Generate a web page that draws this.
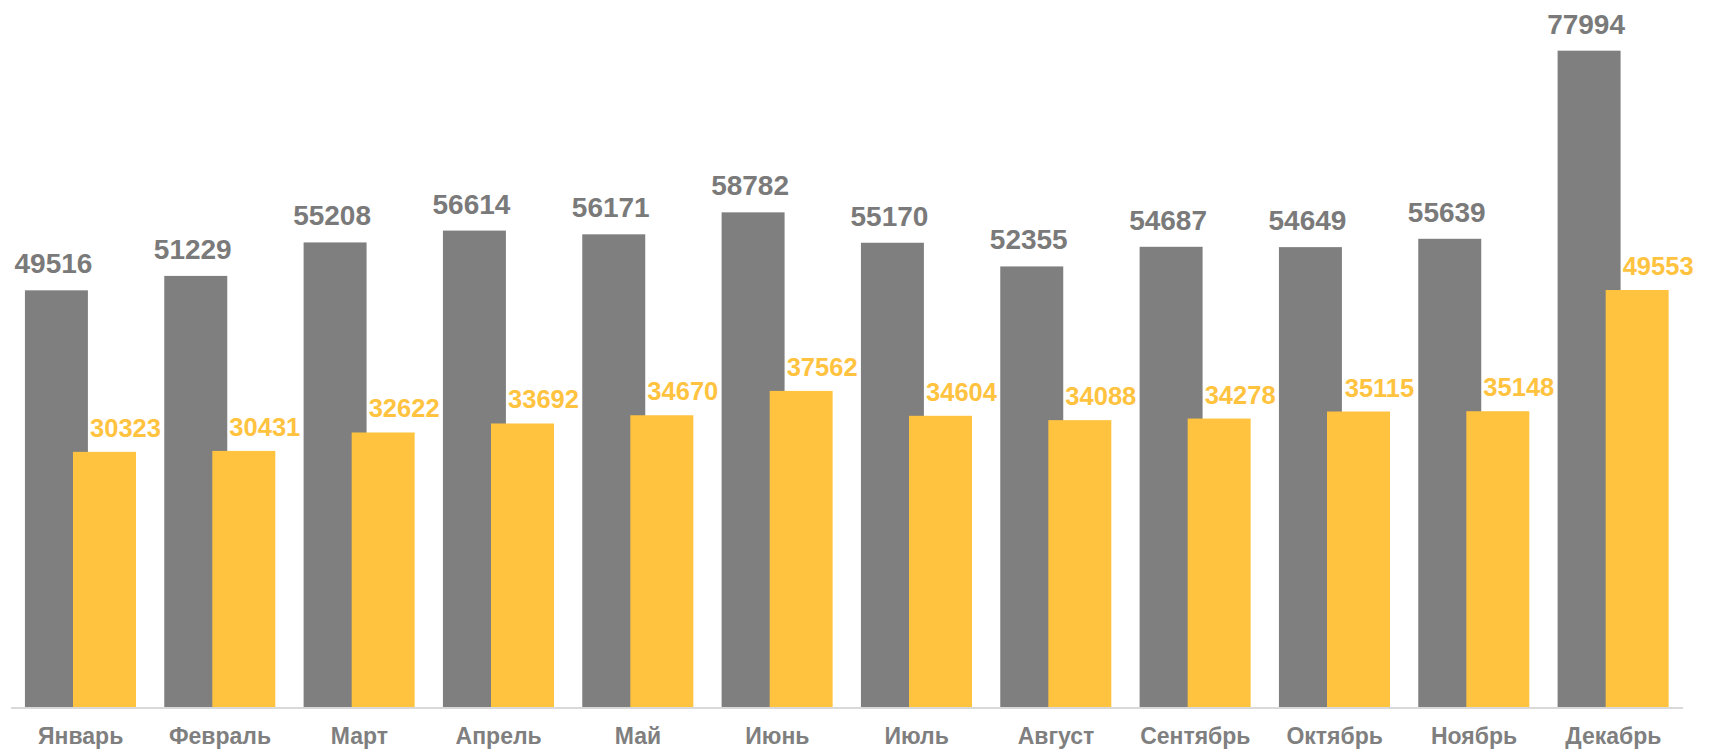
<!DOCTYPE html>
<html>
<head>
<meta charset="utf-8">
<script src="https://cdn.jsdelivr.net/npm/d3@7"></script>
<style>
	body { margin: 0; background: #fff; }
	text { font-family: 'Liberation Sans', Arial, sans-serif; font-weight: bold; }
</style>
</head>
<body>
<script>
const months = ['Январь', 'Февраль', 'Март', 'Апрель', 'Май', 'Июнь', 'Июль', 'Август', 'Сентябрь', 'Октябрь', 'Ноябрь', 'Декабрь'];
const grayValues = [49516, 51229, 55208, 56614, 56171, 58782, 55170, 52355, 54687, 54649, 55639, 77994];
const yellowValues = [30323, 30431, 32622, 33692, 34670, 37562, 34604, 34088, 34278, 35115, 35148, 49553];

const w = 1713;
const h = 749;
const baseY = 707;

const svg = d3
	.select('body')
	.append('svg')
	.attr('width', w)
	.attr('height', h);

const xScale = d3
	.scaleBand()
	.domain(months)
	.range([11, 1683])
	.padding(0);

const bw = xScale.bandwidth();
const barW = bw * 0.452;

const yScale = d3
	.scaleLinear()
	.domain([0, 80000])
	.range([baseY, baseY - 80000 * 0.008415]);

const grayX = m => xScale(m) + bw * 0.1;
const yellowX = m => xScale(m) + bw * 0.445;

// gray bars
svg
	.selectAll('rect.gray')
	.data(months)
	.enter()
	.append('rect')
	.attr('class', 'gray')
	.attr('x', d => grayX(d))
	.attr('y', (d, i) => yScale(grayValues[i]))
	.attr('width', barW)
	.attr('height', (d, i) => baseY - yScale(grayValues[i]))
	.attr('fill', '#7f7f7f');

// yellow bars
svg
	.selectAll('rect.yellow')
	.data(months)
	.enter()
	.append('rect')
	.attr('class', 'yellow')
	.attr('x', d => yellowX(d))
	.attr('y', (d, i) => yScale(yellowValues[i]))
	.attr('width', barW)
	.attr('height', (d, i) => baseY - yScale(yellowValues[i]))
	.attr('fill', '#ffc33f');

// axis line
svg
	.append('line')
	.attr('x1', xScale.range()[0])
	.attr('x2', xScale.range()[1])
	.attr('y1', baseY + 1)
	.attr('y2', baseY + 1)
	.attr('stroke', '#d9d9d9')
	.attr('stroke-width', 2);

// gray labels
svg
	.selectAll('text.glab')
	.data(months)
	.enter()
	.append('text')
	.attr('class', 'glab')
	.attr('x', d => grayX(d) + barW / 2 - 3)
	.attr('y', (d, i) => yScale(grayValues[i]) - 17)
	.attr('text-anchor', 'middle')
	.attr('font-size', 28)
	.attr('fill', '#7a7a7a')
	.text((d, i) => grayValues[i]);

// yellow labels
svg
	.selectAll('text.ylab')
	.data(months)
	.enter()
	.append('text')
	.attr('class', 'ylab')
	.attr('x', d => Math.min(yellowX(d) + barW / 2 + 21, w - 42))
	.attr('y', (d, i) => yScale(yellowValues[i]) - 15)
	.attr('text-anchor', 'middle')
	.attr('font-size', 25.5)
	.attr('fill', '#ffc33f')
	.text((d, i) => yellowValues[i]);

// month labels
svg
	.selectAll('text.mlab')
	.data(months)
	.enter()
	.append('text')
	.attr('class', 'mlab')
	.attr('x', d => xScale(d) + bw / 2)
	.attr('y', 744)
	.attr('text-anchor', 'middle')
	.attr('font-size', 23)
	.attr('fill', '#7f7f7f')
	.text(d => d);
</script>
</body>
</html>
